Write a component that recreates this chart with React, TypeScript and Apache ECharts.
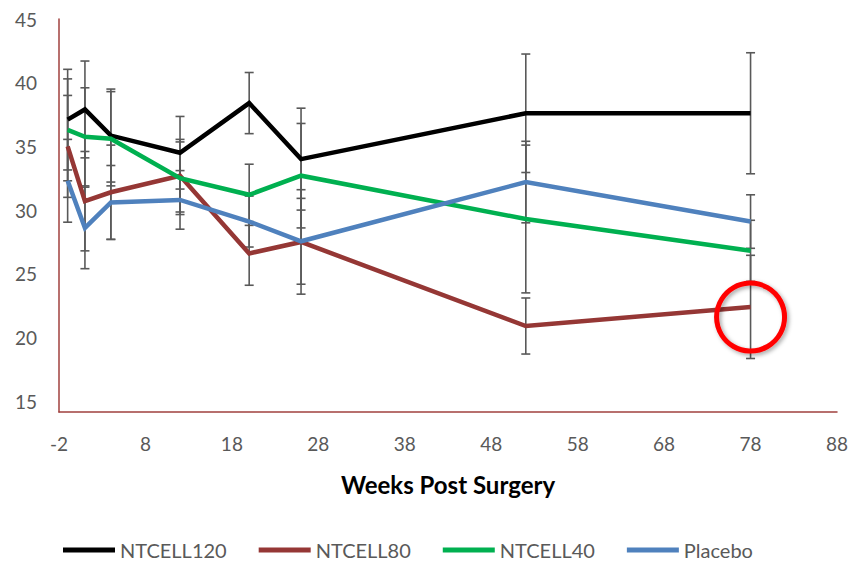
import React, { useEffect, useRef } from "react";
import * as echarts from "echarts";

const weeks = [-1, 1, 4, 12, 20, 26, 52, 78];

const ntcell120 = [37.1, 37.9, 35.85, 34.5, 38.4, 34.0, 37.6, 37.6];
const ntcell120Err = [3.95, 3.8, 3.65, 2.85, 2.4, 4.0, 4.65, 4.75];

const ntcell80 = [35.0, 30.7, 31.4, 32.7, 26.6, 27.5, 20.9, 22.4];
const ntcell80Err = [4.0, 3.9, 3.7, 2.85, 2.5, 4.1, 2.2, 4.05];

const ntcell40 = [36.3, 35.75, 35.6, 32.5, 31.2, 32.7, 29.3, 26.8];
const ntcell40Err = [4.0, 3.85, 3.7, 2.85, 2.4, 4.1, 5.8, 2.4];

const placebo = [32.3, 28.6, 30.6, 30.8, 29.1, 27.55, 32.2, 29.1];
const placeboErr = [3.25, 3.2, 2.9, 2.3, 2.0, 3.37, 3.2, 2.1];

const xTicks = [-2, 8, 18, 28, 38, 48, 58, 68, 78, 88];
const yTicks = [15, 20, 25, 30, 35, 40, 45];

const highlightPoint = [78, 21.6];

const seriesDefs = [
  { name: "NTCELL120", values: ntcell120, err: ntcell120Err, color: "#000000" },
  { name: "NTCELL80", values: ntcell80, err: ntcell80Err, color: "#953735" },
  { name: "NTCELL40", values: ntcell40, err: ntcell40Err, color: "#00B050" },
  { name: "Placebo", values: placebo, err: placeboErr, color: "#4F81BD" },
];

const FONT = "Lato, 'Open Sans', sans-serif";

export default function App() {
  const ref = useRef<HTMLDivElement>(null);

  useEffect(() => {
    if (!ref.current) return;
    const chart = echarts.init(ref.current, null, { renderer: "svg" });

    const errSeries = seriesDefs.map((s) => ({
      type: "custom",
      name: s.name + " error",
      silent: true,
      z: 1,
      data: weeks.map((w, i) => [w, s.values[i] - s.err[i], s.values[i] + s.err[i]]),
      renderItem: (params: any, api: any) => {
        const x = api.value(0);
        const lo = api.coord([x, api.value(1)]);
        const hi = api.coord([x, api.value(2)]);
        const half = 4.5;
        const style = { stroke: "#595959", lineWidth: 1.6 };
        return {
          type: "group",
          children: [
            { type: "line", shape: { x1: lo[0], y1: lo[1], x2: hi[0], y2: hi[1] }, style },
            { type: "line", shape: { x1: hi[0] - half, y1: hi[1], x2: hi[0] + half, y2: hi[1] }, style },
            { type: "line", shape: { x1: lo[0] - half, y1: lo[1], x2: lo[0] + half, y2: lo[1] }, style },
          ],
        };
      },
    }));

    const lineSeries = seriesDefs.map((s, idx) => ({
      type: "line",
      name: s.name,
      data: weeks.map((w, i) => [w, s.values[i]]),
      symbol: "none",
      z: 3 + idx,
      lineStyle: { color: s.color, width: 4.5, cap: "butt", join: "miter" },
      itemStyle: { color: s.color },
      ...(s.name === "NTCELL80"
        ? {
            markPoint: {
              z: 20,
              silent: true,
              symbol: "circle",
              symbolSize: 68,
              label: { show: false },
              itemStyle: {
                color: "rgba(0,0,0,0)",
                borderColor: "#FF0000",
                borderWidth: 5,
                shadowBlur: 4,
                shadowColor: "rgba(0,0,0,0.35)",
                shadowOffsetX: 2,
                shadowOffsetY: 2,
              },
              data: [{ coord: highlightPoint }],
            },
          }
        : {}),
    }));

    chart.setOption({
      animation: false,
      grid: { left: 59, right: 15, top: 19, bottom: 152, containLabel: false },
      xAxis: {
        type: "value",
        min: -2,
        max: 88,
        name: "Weeks Post Surgery",
        nameLocation: "middle",
        nameGap: 60,
        nameTextStyle: { fontFamily: FONT, fontSize: 24, fontWeight: "bold", color: "#000000" },
        axisLine: { show: true, lineStyle: { color: "#A0403E", width: 1.5 } },
        axisTick: { show: false },
        splitLine: { show: false },
        axisLabel: {
          customValues: xTicks,
          margin: 22,
          fontFamily: FONT,
          fontSize: 19,
          color: "#595959",
          formatter: (v: number) => String(v),
        },
      },
      yAxis: {
        type: "value",
        min: 14.15,
        max: 45,
        axisLine: { show: true, onZero: false, lineStyle: { color: "#A0403E", width: 1.5 } },
        axisTick: { show: false },
        splitLine: { show: false },
        axisLabel: {
          customValues: yTicks,
          margin: 22,
          fontFamily: FONT,
          fontSize: 19,
          color: "#595959",
          formatter: (v: number) => String(v),
        },
      },
      legend: {
        data: seriesDefs.map((s) => s.name),
        left: 63,
        top: 538,
        padding: 0,
        icon: "rect",
        itemWidth: 52,
        itemHeight: 5,
        itemGap: 32,
        textStyle: { fontFamily: FONT, fontSize: 20, color: "#595959", lineHeight: 24 },
      },
      series: [...errSeries, ...lineSeries],
    });

    return () => chart.dispose();
  }, []);

  return <div ref={ref} style={{ width: 852, height: 564, position: "absolute", left: 0, top: 0 }} />;
}
